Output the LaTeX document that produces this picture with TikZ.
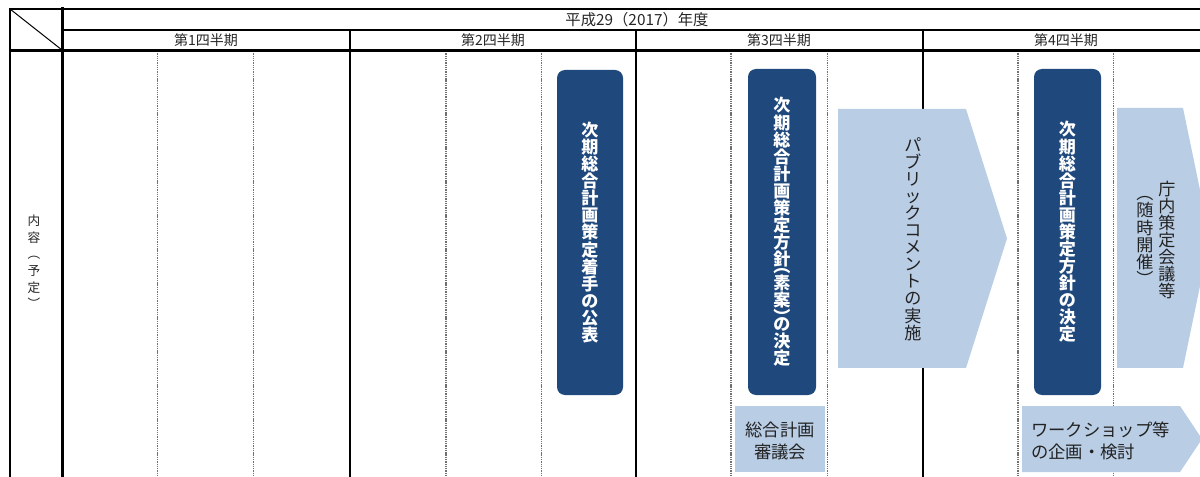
\documentclass[tikz,border=0pt]{standalone}
\usepackage{fontspec}
\setmainfont{Noto Sans CJK JP}
\definecolor{navy}{HTML}{1F497D}
\definecolor{pale}{HTML}{B9CDE5}
\definecolor{ink}{HTML}{222222}
\definecolor{dotgray}{HTML}{707070}
\newcommand{\tightlines}{\lineskiplimit=-20pt\relax}
\newcommand{\vopen}{\raisebox{4pt}{︵}}
\newcommand{\vclose}{\raisebox{-4pt}{︶}}
\tikzset{
  rule/.style={line width=1.5pt, line cap=rect},
  heavyrule/.style={line width=2.25pt, line cap=rect},
  lightrule/.style={line width=1.1pt},
  monthrule/.style={line width=0.85pt, dotgray, dash pattern=on 1pt off 0.7pt},
  hdrtext/.style={font=\fontsize{10.5}{12}\selectfont, text=black!85, inner sep=0pt},
  darkbox/.style={fill=navy, draw=none, rounded corners=6pt, inner sep=0pt, text=white, align=center,
     font=\fontsize{12.8}{12.8}\selectfont\bfseries\tightlines},
  paletext/.style={text=ink, align=center, inner sep=0pt,
     font=\fontsize{12.8}{12.8}\selectfont\tightlines},
  palefill/.style={fill=pale, draw=none},
  boxtext/.style={text=ink, inner sep=0pt, font=\fontsize{13}{16.5}\selectfont},
}
\begin{document}
\begin{tikzpicture}[x=0.75pt, y=-0.75pt]
\useasboundingbox (0,0) rectangle (1200,477);
\clip (0,0) rectangle (1200,477);
% month (dotted) lines
\foreach \x in {157.5,253.5,446,541.5,731,827.5,1018,1113.5}
  \draw[monthrule] (\x,51) -- (\x,480);
% quarter lines
\foreach \x in {350,636,922.5,1209}
  \draw[rule] (\x,30) -- (\x,480);
% frame
\draw[rule] (10,9) -- (1215,9);
\draw[rule] (10,9) -- (10,480);
\draw[heavyrule] (62.5,9) -- (62.5,480);
\draw[lightrule] (62.5,30) -- (1215,30);
\draw[heavyrule] (10,50.5) -- (1215,50.5);
\draw[line width=0.75pt] (10,9) -- (62,50);
% header texts
\node[hdrtext, font=\fontsize{11.5}{13}\selectfont] (hdr) at (637,19.5) {平成29（2017）年度};
\node[hdrtext] (q1) at (206,40.5) {第1四半期};
\node[hdrtext] (q2) at (493,40.5) {第2四半期};
\node[hdrtext] (q3) at (779,40.5) {第3四半期};
\node[hdrtext] (q4) at (1066,40.5) {第4四半期};
% row label
\node[text=black!85, align=center, inner sep=0pt, font=\fontsize{9.5}{12.5}\selectfont\tightlines] (lbl) at (34,262)
  {内\\容\\︵\\予\\定\\︶};
% dark boxes
\node[darkbox, minimum width=49.5pt, minimum height=243.75pt] (b1) at (590,232.5)
  {次\\期\\総\\合\\計\\画\\策\\定\\着\\手\\の\\公\\表};
\node[darkbox, minimum width=51pt, minimum height=244.5pt] (b2) at (782,232)
  {次\\期\\総\\合\\計\\画\\策\\定\\方\\針\\[-3.8pt]\vopen\\[-3.8pt]素\\案\\[-3.8pt]\vclose\\[-3.8pt]の\\決\\定};
\node[darkbox, minimum width=50.25pt, minimum height=244.5pt] (b3) at (1067.5,232)
  {次\\期\\総\\合\\計\\画\\策\\定\\方\\針\\の\\決\\定};
% public comment arrow
\fill[palefill] (838,109) -- (966,109) -- (1007,238.5) -- (966,368) -- (838,368) -- cycle;
\node[paletext] (pc) at (913,239) {パ\\ブ\\リ\\ッ\\ク\\コ\\メ\\ン\\ト\\の\\実\\施};
% internal meeting arrow
\fill[palefill] (1117,108) -- (1183,108) -- (1210,238) -- (1183,368) -- (1117,368) -- cycle;
\node[paletext] (ch) at (1167,240) {庁\\内\\策\\定\\会\\議\\等};
\node[paletext] (chp) at (1145,241) {\vopen\\[-3.8pt]随\\時\\開\\催\\[-3.8pt]\vclose};
% bottom boxes
\node[palefill, minimum width=67.5pt, minimum height=49.5pt, inner sep=0pt] (sgbox) at (780,439) {};
\node[boxtext, align=center] (sg) at (780,441) {総合計画\\審議会};
\fill[palefill] (1022,406) -- (1180,406) -- (1202,439) -- (1180,472) -- (1022,472) -- cycle;
\node[boxtext, align=left, anchor=west] (ws) at (1031,441) {ワークショップ等\\の企画・検討};
\end{tikzpicture}
\end{document}
